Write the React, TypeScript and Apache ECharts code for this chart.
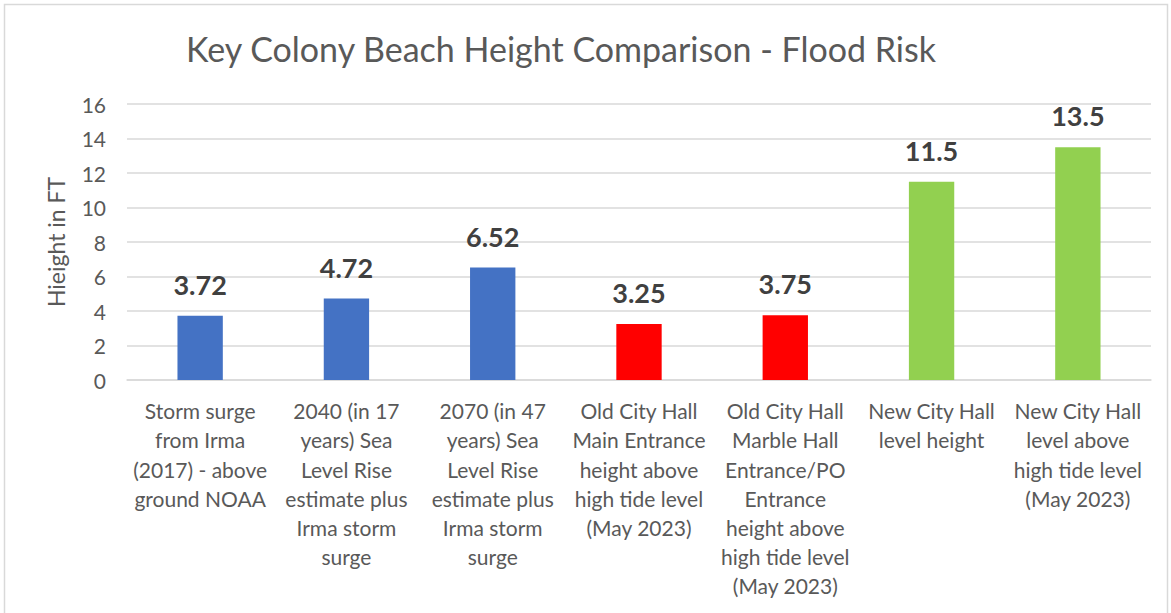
import React, { useEffect, useRef } from "react";
import * as echarts from "echarts";

const titleText = "Key Colony Beach Height Comparison - Flood Risk";
const yAxisName = "Hieight in FT";
const categories = [
  "Storm surge\nfrom Irma\n(2017) - above\nground NOAA",
  "2040 (in 17\nyears) Sea\nLevel Rise\nestimate plus\nIrma storm\nsurge",
  "2070 (in 47\nyears) Sea\nLevel Rise\nestimate plus\nIrma storm\nsurge",
  "Old City Hall\nMain Entrance\nheight above\nhigh tide level\n(May 2023)",
  "Old City Hall\nMarble Hall\nEntrance/PO\nEntrance\nheight above\nhigh tide level\n(May 2023)",
  "New City Hall\nlevel height",
  "New City Hall\nlevel above\nhigh tide level\n(May 2023)",
];
const values = [3.72, 4.72, 6.52, 3.25, 3.75, 11.5, 13.5];
const valueLabels = ["3.72", "4.72", "6.52", "3.25", "3.75", "11.5", "13.5"];
const groups = ["risk", "risk", "risk", "old", "old", "new", "new"];
const yMin = 0;
const yMax = 16;
const yStep = 2;

const groupColors: Record<string, string> = {
  risk: "#4472C4",
  old: "#FF0000",
  new: "#92D050",
};

const FONT = "Lato, 'Open Sans', sans-serif";

export default function App() {
  const ref = useRef<HTMLDivElement>(null);
  useEffect(() => {
    if (!ref.current) return;
    const chart = echarts.init(ref.current, null, { renderer: "svg" });
    chart.setOption({
      animation: false,
      backgroundColor: "#FFFFFF",
      textStyle: { fontFamily: FONT },
      title: {
        text: titleText,
        left: 181,
        top: 26,
        textStyle: {
          fontFamily: FONT,
          fontSize: 34,
          fontWeight: "normal",
          color: "#595959",
        },
      },
      graphic: [
        {
          type: "rect",
          shape: { x: 4.5, y: 4.5, width: 1163, height: 620 },
          style: { fill: "none", stroke: "#D9D9D9", lineWidth: 1.5 },
          silent: true,
        },
      ],
      grid: { left: 127, right: 20, top: 104, bottom: 233, containLabel: false },
      xAxis: {
        type: "category",
        data: categories,
        axisLine: { show: true, lineStyle: { color: "#D9D9D9", width: 1.5 } },
        axisTick: { show: false },
        axisLabel: {
          interval: 0,
          margin: 16,
          fontFamily: FONT,
          fontSize: 21,
          lineHeight: 29.2,
          color: "#595959",
          align: "center",
        },
      },
      yAxis: {
        type: "value",
        min: yMin,
        max: yMax,
        interval: yStep,
        name: yAxisName,
        nameLocation: "middle",
        nameGap: 60,
        nameRotate: 90,
        nameTextStyle: { fontFamily: FONT, fontSize: 23, color: "#595959" },
        axisLine: { show: false },
        axisTick: { show: false },
        splitLine: { lineStyle: { color: "#D9D9D9", width: 1.5 } },
        axisLabel: {
          margin: 21,
          fontFamily: FONT,
          fontSize: 21,
          color: "#595959",
        },
      },
      series: [
        {
          type: "bar",
          barWidth: "31%",
          data: values.map((v, i) => ({
            value: v,
            itemStyle: { color: groupColors[groups[i]] },
          })),
          label: {
            show: true,
            position: "top",
            distance: 18,
            fontFamily: FONT,
            fontSize: 27,
            fontWeight: "bold",
            color: "#404040",
            formatter: (p: any) => valueLabels[p.dataIndex],
          },
        },
      ],
    });
    return () => chart.dispose();
  }, []);
  return (
    <div
      ref={ref}
      style={{ position: "fixed", left: 0, top: 0, width: 1171, height: 613 }}
    />
  );
}
